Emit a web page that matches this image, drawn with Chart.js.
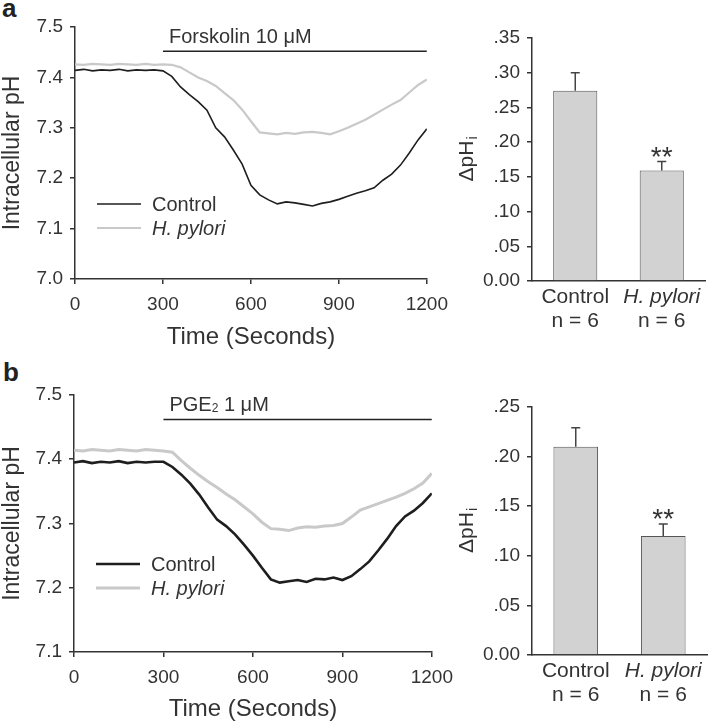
<!DOCTYPE html>
<html>
<head>
<meta charset="utf-8">
<script src="https://cdn.jsdelivr.net/npm/chart.js@4.4.1/dist/chart.umd.min.js"></script>
<style>
  body { margin: 0; background: #fff; }
  #wrap { position: relative; width: 709px; height: 724px; overflow: hidden; font-family: "Liberation Sans", Arial, sans-serif; color: #333; }
  canvas { position: absolute; }
  .panel { position: absolute; font-weight: bold; font-size: 26px; line-height: 26px; color: #222; }
</style>
</head>
<body>
<div id="wrap">
  <div class="panel" style="left:2px; top:-5px">a</div>
  <div class="panel" style="left:3px; top:359px">b</div>
  <canvas id="lineA" width="457" height="360" style="left:0; top:0"></canvas>
  <canvas id="barA" width="259" height="340" style="left:450px; top:0"></canvas>
  <canvas id="lineB" width="462" height="354" style="left:0; top:370px"></canvas>
  <canvas id="barB" width="259" height="344" style="left:450px; top:380px"></canvas>
</div>
<script>
// time points (seconds)
const timeSec = [0, 30, 60, 90, 120, 150, 180, 210, 240, 270, 300, 330, 360, 390, 420, 450, 480, 510, 540, 570,
  600, 630, 660, 690, 720, 750, 780, 810, 840, 870, 900, 930, 960, 990, 1020, 1050, 1080, 1110, 1140, 1170, 1200];

// panel a: forskolin 10 uM
const forskControl = [7.414, 7.416, 7.413, 7.415, 7.414, 7.416, 7.413, 7.415, 7.414, 7.415, 7.413, 7.402, 7.381,
  7.366, 7.352, 7.335, 7.300, 7.282, 7.256, 7.228, 7.186, 7.167, 7.157, 7.149, 7.153, 7.151, 7.148, 7.145, 7.150,
  7.153, 7.158, 7.164, 7.170, 7.175, 7.181, 7.196, 7.208, 7.226, 7.250, 7.276, 7.298];
const forskHPylori = [7.426, 7.425, 7.427, 7.426, 7.425, 7.427, 7.426, 7.425, 7.427, 7.425, 7.426, 7.425, 7.420,
  7.410, 7.400, 7.393, 7.383, 7.369, 7.355, 7.336, 7.313, 7.291, 7.289, 7.287, 7.290, 7.288, 7.291, 7.292, 7.290,
  7.287, 7.293, 7.300, 7.308, 7.316, 7.326, 7.336, 7.346, 7.355, 7.370, 7.385, 7.396];

// panel b: PGE2 1 uM
const pgeControl = [7.395, 7.397, 7.394, 7.396, 7.395, 7.397, 7.394, 7.396, 7.395, 7.396, 7.396, 7.388, 7.376,
  7.362, 7.345, 7.325, 7.306, 7.296, 7.283, 7.267, 7.250, 7.231, 7.213, 7.208, 7.210, 7.212, 7.209, 7.214, 7.213,
  7.216, 7.212, 7.218, 7.229, 7.241, 7.258, 7.276, 7.296, 7.311, 7.320, 7.332, 7.347];
const pgeHPylori = [7.414, 7.413, 7.415, 7.414, 7.413, 7.415, 7.414, 7.413, 7.415, 7.414, 7.413, 7.411, 7.398,
  7.386, 7.375, 7.365, 7.356, 7.346, 7.337, 7.326, 7.315, 7.302, 7.292, 7.291, 7.289, 7.293, 7.295, 7.294, 7.296,
  7.297, 7.300, 7.310, 7.321, 7.326, 7.331, 7.336, 7.341, 7.347, 7.354, 7.363, 7.378];

// drug application bars (start, end, drawn level)
const forskTreat = [300, 1200];
const forskTreatLevel = 7.452;
const pgeTreat = [300, 1200];
const pgeTreatLevel = 7.462;

// bar charts: delta pHi, mean and SEM
const groups = ['Control', 'H. pylori'];
const groupN = ['n = 6', 'n = 6'];
const forskDelta = [0.274, 0.159];
const forskSem = [0.026, 0.013];
const pgeDelta = [0.210, 0.120];
const pgeSem = [0.019, 0.012];
const sigMarks = ['', '**'];

const FONT = '"Liberation Sans", Arial, sans-serif';
const INK = '#333';
Chart.defaults.font.family = FONT;
Chart.defaults.color = INK;

const toPts = (xs, ys) => xs.map((t, i) => ({ x: t, y: ys[i] }));

const lineDecor = {
  id: 'lineDecor',
  afterDatasetsDraw(chart, args, opts) {
    const { ctx, chartArea } = chart;
    const x = chart.scales.x, y = chart.scales.y;
    ctx.save();
    ctx.fillStyle = INK;
    // treatment label
    let tx = x.getPixelForValue(opts.labelAt) + 6;
    const ty = y.getPixelForValue(opts.level) - 8;
    ctx.textBaseline = 'alphabetic';
    opts.label.forEach(part => {
      ctx.font = (part.sub ? '12px ' : '20px ') + FONT;
      ctx.fillText(part.t, tx, part.sub ? ty + 1 : ty);
      tx += ctx.measureText(part.t).width;
    });
    // legend
    [0, 1].forEach(i => {
      const ds = chart.data.datasets[i];
      const lx = chartArea.left + 22;
      const ly = chartArea.top + opts.legendTop + i * 24;
      ctx.strokeStyle = ds.borderColor;
      ctx.lineWidth = ds.borderWidth;
      ctx.beginPath();
      ctx.moveTo(lx, ly);
      ctx.lineTo(lx + 44, ly);
      ctx.stroke();
      ctx.font = (i === 1 ? 'italic ' : '') + '20px ' + FONT;
      ctx.textBaseline = 'middle';
      ctx.fillText(ds.label, lx + 55, ly + 1);
    });
    ctx.restore();
  }
};

const barDecor = {
  id: 'barDecor',
  afterDatasetsDraw(chart, args, opts) {
    const { ctx, chartArea } = chart;
    const y = chart.scales.y;
    const vals = chart.data.datasets[0].data;
    ctx.save();
    chart.getDatasetMeta(0).data.forEach((bar, i) => {
      const top = y.getPixelForValue(vals[i] + opts.sem[i]);
      ctx.strokeStyle = '#444';
      ctx.lineWidth = 1.5;
      ctx.beginPath();
      ctx.moveTo(bar.x, bar.y);
      ctx.lineTo(bar.x, top);
      ctx.moveTo(bar.x - 4.5, top);
      ctx.lineTo(bar.x + 4.5, top);
      ctx.stroke();
      ctx.fillStyle = INK;
      ctx.textAlign = 'center';
      if (sigMarks[i]) {
        ctx.font = '28px ' + FONT;
        ctx.textBaseline = 'alphabetic';
        ctx.fillText(sigMarks[i], bar.x, top + 4);
      }
      ctx.textBaseline = 'middle';
      ctx.font = (i === 1 ? 'italic ' : '') + '21px ' + FONT;
      ctx.fillText(chart.data.labels[i], bar.x, chartArea.bottom + 16);
      ctx.font = '21px ' + FONT;
      ctx.fillText(groupN[i], bar.x, chartArea.bottom + 40);
    });
    // y title: delta pH with subscript i
    const cy = (chartArea.top + chartArea.bottom) / 2;
    ctx.translate(17, cy);
    ctx.rotate(-Math.PI / 2);
    ctx.font = '21px ' + FONT;
    const main = '\u0394pH';
    const w1 = ctx.measureText(main).width;
    ctx.font = '14px ' + FONT;
    const w2 = ctx.measureText('i').width;
    ctx.textAlign = 'left';
    ctx.textBaseline = 'middle';
    ctx.font = '21px ' + FONT;
    ctx.fillText(main, -(w1 + w2) / 2, 0);
    ctx.font = '14px ' + FONT;
    ctx.fillText('i', -(w1 + w2) / 2 + w1 + 1, 6);
    ctx.restore();
  }
};

function makeLine(id, ctrl, hp, treat, level, yMin, cfg) {
  return new Chart(document.getElementById(id), {
    type: 'line',
    data: {
      datasets: [
        { label: 'Control', data: toPts(timeSec, ctrl), borderColor: '#1e1e1e', borderWidth: cfg.ctrlWidth, pointRadius: 0, tension: 0 },
        { label: 'H. pylori', data: toPts(timeSec, hp), borderColor: '#c9c9c9', borderWidth: cfg.hpWidth, pointRadius: 0, tension: 0 },
        { label: 'treat', data: treat.map(t => ({ x: t, y: level })), borderColor: '#222', borderWidth: 1.5, pointRadius: 0 }
      ]
    },
    options: {
      responsive: false,
      animation: false,
      devicePixelRatio: 1,
      layout: { padding: { top: cfg.padTop, right: 24, bottom: 0, left: 0 } },
      plugins: {
        legend: { display: false },
        tooltip: { enabled: false },
        lineDecor: { label: cfg.label, labelAt: treat[0], level: level, legendTop: cfg.legendTop }
      },
      scales: {
        x: {
          type: 'linear', min: 0, max: 1200,
          ticks: { stepSize: 300, padding: 9, font: { size: 19 }, maxRotation: 0, color: INK, callback: v => String(v) },
          grid: { drawOnChartArea: false, tickLength: 5, color: INK, lineWidth: 1.5 },
          border: { color: INK, width: 1.5 },
          title: { display: true, text: 'Time (Seconds)', font: { size: 24 }, padding: { top: 0, bottom: cfg.titlePad }, color: INK },
          afterFit: s => { s.height = cfg.xHeight; }
        },
        y: {
          min: yMin, max: 7.5,
          ticks: { stepSize: 0.1, padding: 7, font: { size: 19 }, color: INK, callback: v => v.toFixed(1) },
          grid: { drawOnChartArea: false, tickLength: 5, color: INK, lineWidth: 1.5 },
          border: { color: INK, width: 1.5 },
          title: { display: true, text: 'Intracellular pH', font: { size: 23, lineHeight: 1.1 }, padding: 0, color: INK },
          afterFit: s => { s.width = cfg.yWidth; }
        }
      }
    },
    plugins: [lineDecor]
  });
}

function makeBar(id, vals, sem, yMax, cfg) {
  return new Chart(document.getElementById(id), {
    type: 'bar',
    data: {
      labels: groups,
      datasets: [{ data: vals, backgroundColor: '#d2d2d2', borderColor: '#555', borderWidth: 1, barPercentage: 0.51, categoryPercentage: 1 }]
    },
    options: {
      responsive: false,
      animation: false,
      devicePixelRatio: 1,
      layout: { padding: { top: cfg.padTop, right: cfg.padRight, bottom: 0, left: 0 } },
      plugins: {
        legend: { display: false },
        tooltip: { enabled: false },
        barDecor: { sem: sem }
      },
      scales: {
        x: {
          ticks: { display: false },
          grid: { display: false },
          border: { color: INK, width: 1.5 },
          afterFit: s => { s.height = cfg.xHeight; }
        },
        y: {
          min: 0, max: yMax,
          ticks: { stepSize: 0.05, padding: 7, font: { size: 19 }, color: INK,
            callback: v => v === 0 ? '0.00' : v.toFixed(2).replace(/^0/, '') },
          grid: { drawOnChartArea: false, tickLength: 5, color: INK, lineWidth: 1.5 },
          border: { color: INK, width: 1.5 },
          afterFit: s => { s.width = 82; }
        }
      }
    },
    plugins: [barDecor]
  });
}

makeLine('lineA', forskControl, forskHPylori, forskTreat, forskTreatLevel, 7.0, {
  ctrlWidth: 1.6, hpWidth: 2.2, padTop: 27, xHeight: 81, titlePad: 8, yWidth: 75, legendTop: 177,
  label: [{ t: 'Forskolin 10 \u03bcM' }]
});
makeLine('lineB', pgeControl, pgeHPylori, pgeTreat, pgeTreatLevel, 7.1, {
  ctrlWidth: 2.6, hpWidth: 3, padTop: 25, xHeight: 72, titlePad: 0, yWidth: 74, legendTop: 169,
  label: [{ t: 'PGE' }, { t: '2', sub: true }, { t: ' 1 \u03bcM' }]
});
makeBar('barA', forskDelta, forskSem, 0.35, { padTop: 38, padRight: 4, xHeight: 59 });
makeBar('barB', pgeDelta, pgeSem, 0.25, { padTop: 27, padRight: 2, xHeight: 69 });
</script>
</body>
</html>
